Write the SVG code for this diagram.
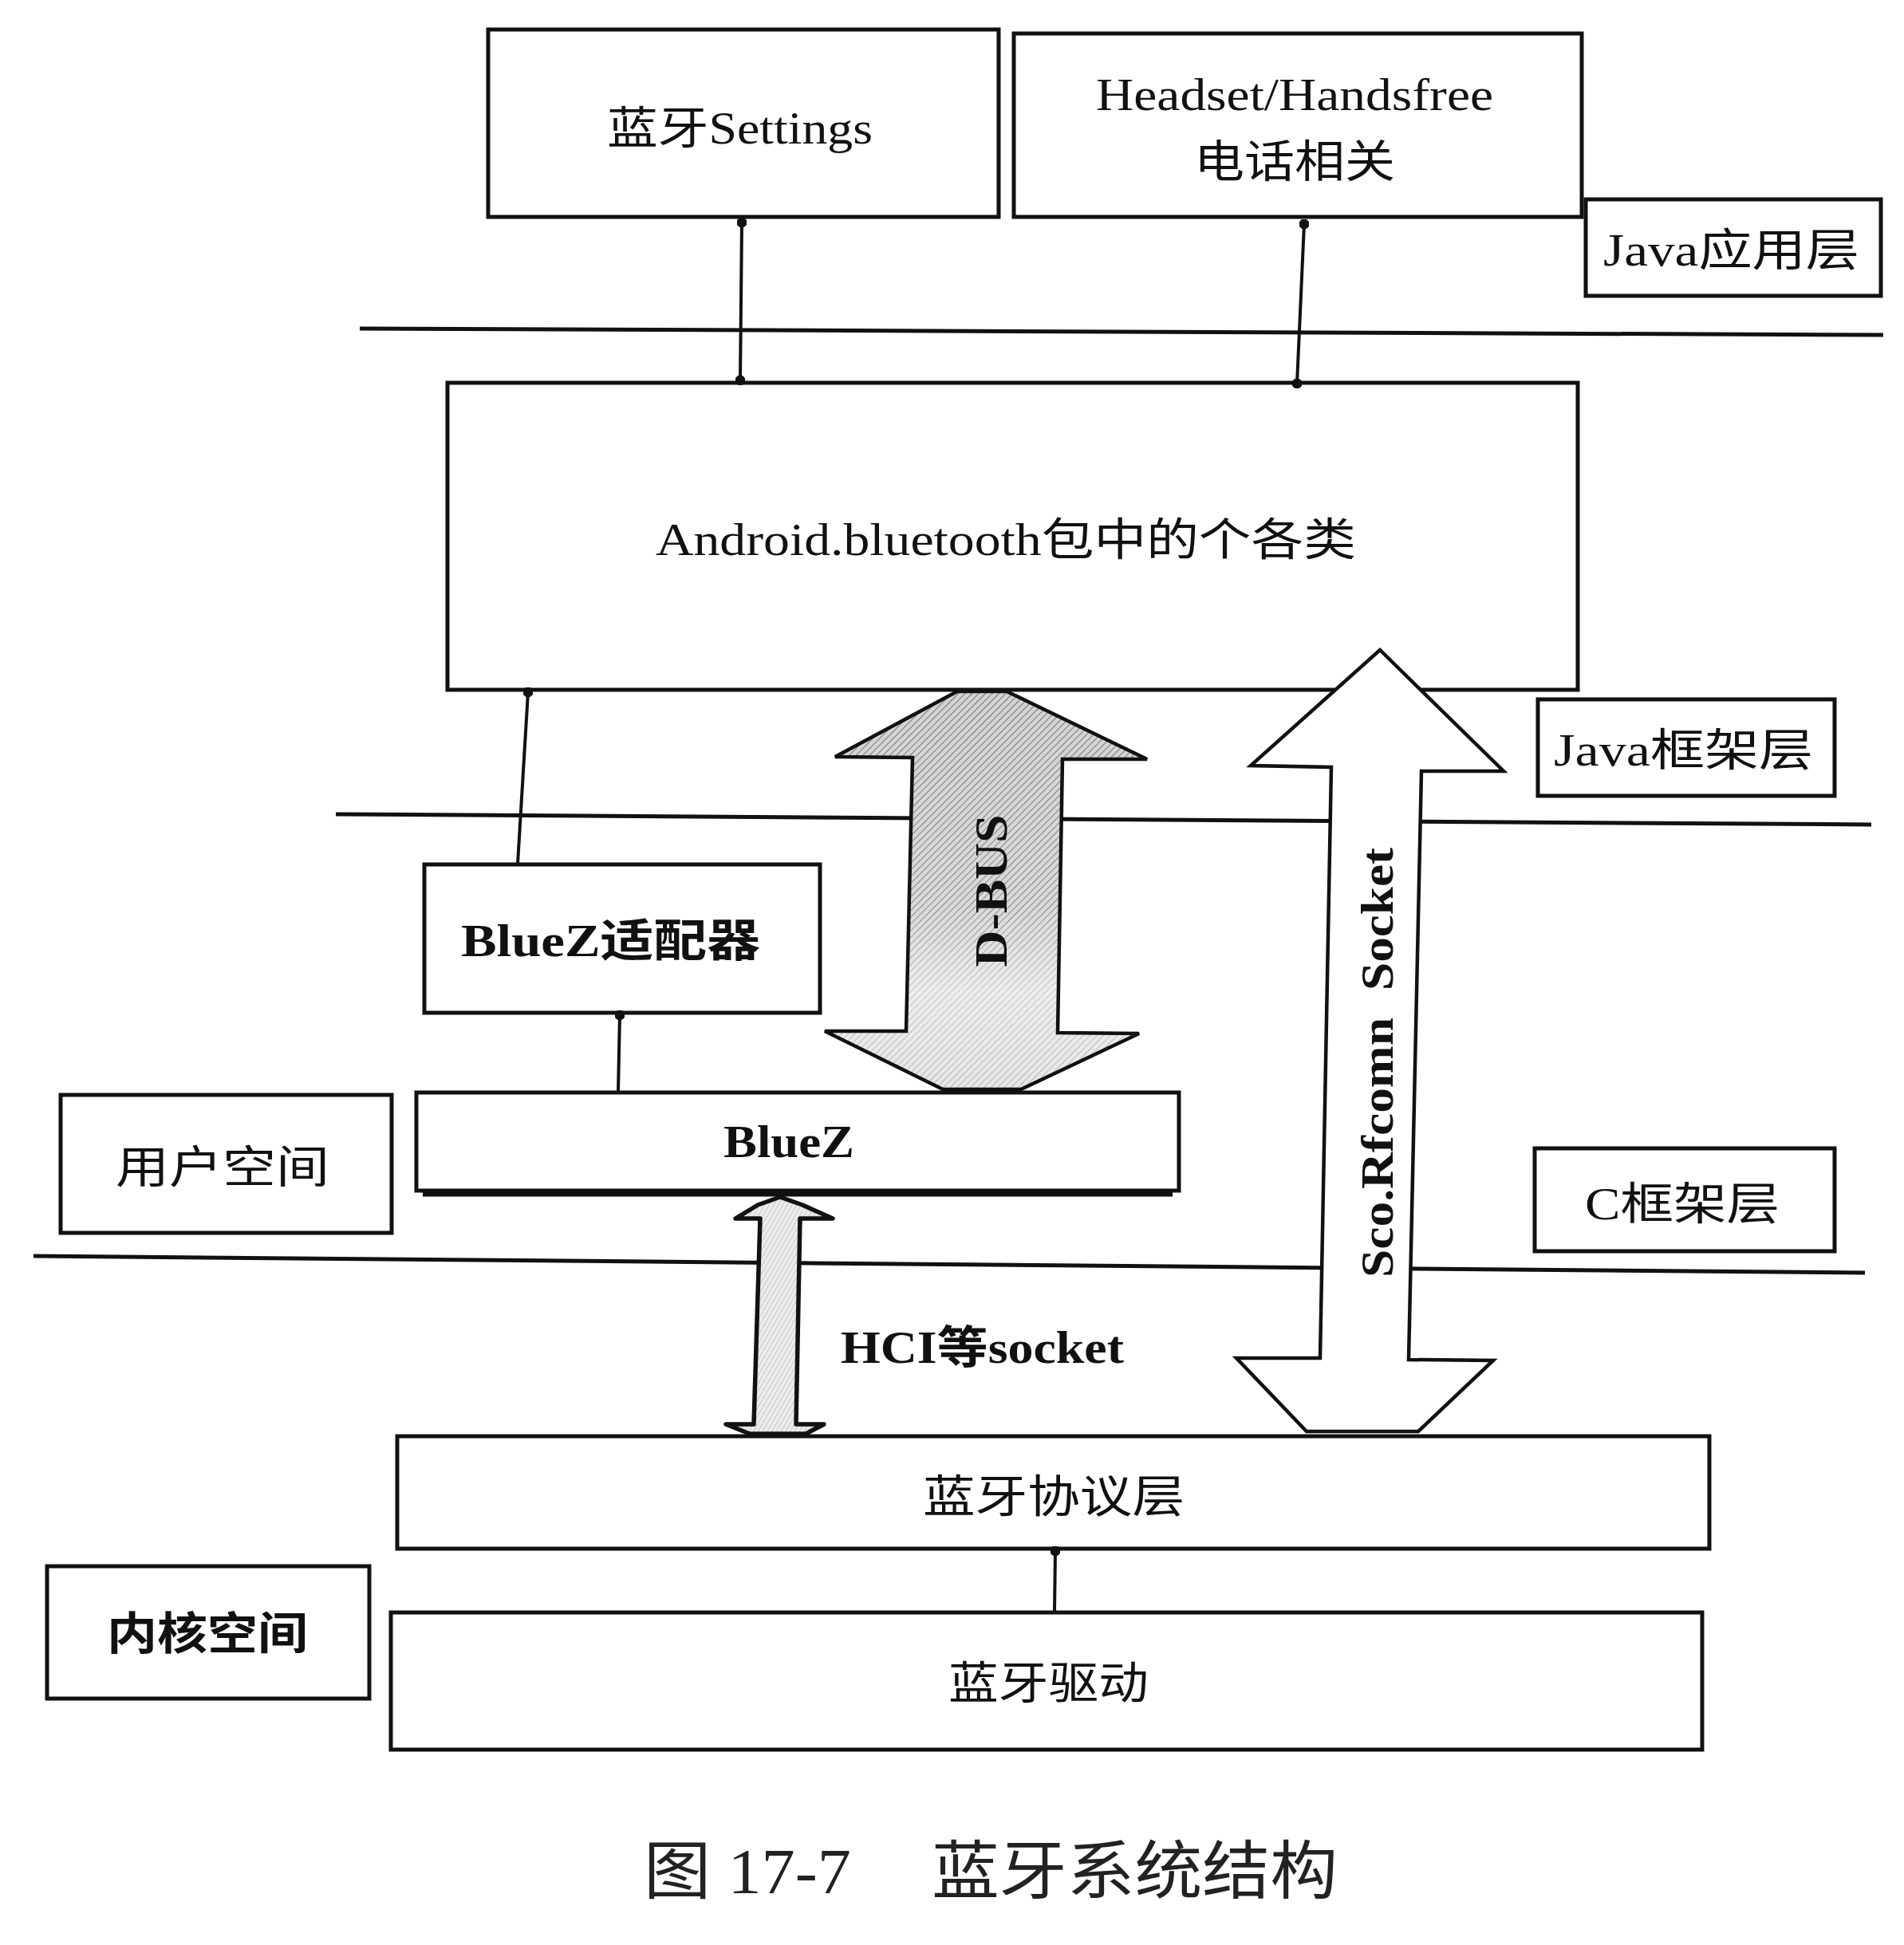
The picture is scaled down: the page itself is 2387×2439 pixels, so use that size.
<svg xmlns="http://www.w3.org/2000/svg" width="2387" height="2439" viewBox="0 0 2387 2439">
<style>
.box{fill:#fff;stroke:#111;stroke-width:5}
.lay{stroke:#111;stroke-width:5;fill:none}
.con{stroke:#111;stroke-width:4;fill:none}
.t{font-family:"Liberation Serif","Noto Sans CJK SC",serif;font-size:56px;fill:#111}
.b{font-weight:bold}
.cap{font-family:"Liberation Serif","Noto Sans CJK SC",serif;font-size:80px;fill:#222}
</style>
<defs>
<marker id="dot" viewBox="0 0 10 10" refX="5" refY="5" markerWidth="3.2" markerHeight="3.2" markerUnits="strokeWidth"><circle cx="5" cy="5" r="5" fill="#111"/></marker>
<pattern id="hatch" width="6" height="6" patternUnits="userSpaceOnUse" patternTransform="rotate(45)"><rect width="6" height="6" fill="#d4d4d4"/><line x1="0" y1="0" x2="0" y2="6" stroke="#777" stroke-width="2.2"/></pattern>
<pattern id="stip" width="5" height="5" patternUnits="userSpaceOnUse" patternTransform="rotate(30)"><rect width="5" height="5" fill="#ececec"/><line x1="0" y1="0" x2="0" y2="5" stroke="#bbb" stroke-width="1.5"/></pattern>
<linearGradient id="fade" x1="0" y1="0" x2="0" y2="1"><stop offset="0" stop-color="#fff" stop-opacity="0"/><stop offset="0.55" stop-color="#fff" stop-opacity="0.15"/><stop offset="0.75" stop-color="#fff" stop-opacity="0.6"/><stop offset="1" stop-color="#fff" stop-opacity="0.45"/></linearGradient>
</defs>

<g id="layer-lines">
<line class="lay" x1="451" y1="412" x2="2361" y2="420"/>
<line class="lay" x1="421" y1="1021" x2="2346" y2="1034"/>
<line class="lay" x1="42" y1="1575" x2="2338" y2="1596"/>
</g>

<g id="n-settings"><rect class="box" x="612" y="37" width="640" height="235"/><text class="t" x="761" y="180" textLength="333" lengthAdjust="spacingAndGlyphs">蓝牙Settings</text></g>
<g id="n-headset"><rect class="box" x="1271" y="42" width="712" height="230"/><text class="t" x="1374" y="138" textLength="498" lengthAdjust="spacingAndGlyphs">Headset/Handsfree</text><text class="t" x="1497" y="222" textLength="252" lengthAdjust="spacingAndGlyphs">电话相关</text></g>
<g id="n-java-app"><rect class="box" x="1988" y="250" width="370" height="121"/><text class="t" x="2010" y="333" textLength="321" lengthAdjust="spacingAndGlyphs">Java应用层</text></g>

<g id="n-dbus">
<polygon points="1200,867 1262,867 1438,952 1332,952 1326,1295 1428,1296 1280,1366 1182,1366 1034,1293 1136,1293 1144,950 1047,949" fill="url(#hatch)" stroke="none"/>
<polygon points="1200,867 1262,867 1438,952 1332,952 1326,1295 1428,1296 1280,1366 1182,1366 1034,1293 1136,1293 1144,950 1047,949" fill="url(#fade)" stroke="#111" stroke-width="4.5" stroke-linejoin="miter"/>
<text class="t b" transform="translate(1262,1117) rotate(-90)" text-anchor="middle" font-size="62" textLength="191" lengthAdjust="spacingAndGlyphs">D-BUS</text>
</g>

<g id="n-android"><rect class="box" x="561" y="480" width="1417" height="385"/><text class="t" x="822" y="696" textLength="878" lengthAdjust="spacingAndGlyphs">Android.bluetooth包中的个各类</text></g>
<g id="n-java-fw"><rect class="box" x="1928" y="877" width="372" height="121"/><text class="t" x="1948" y="960" textLength="325" lengthAdjust="spacingAndGlyphs">Java框架层</text></g>

<g id="n-sco">
<polygon points="1730,815 1885,967 1782,967 1766,1705 1872,1706 1778,1795 1638,1795 1550,1703 1655,1703 1669,962 1568,960" fill="#fff" stroke="#111" stroke-width="4.5"/>
<text class="t b" transform="translate(1746,1332) rotate(-90)" font-size="62"><tspan x="-270" y="0" textLength="326" lengthAdjust="spacingAndGlyphs">Sco.Rfcomn</tspan><tspan x="90" y="0" textLength="179" lengthAdjust="spacingAndGlyphs">Socket</tspan></text>
</g>

<g id="n-bluez-adapter"><rect class="box" x="532" y="1084" width="496" height="186"/><text class="t b" x="578" y="1199" font-size="58" textLength="375" lengthAdjust="spacingAndGlyphs">BlueZ适配器</text></g>
<g id="n-bluez"><rect class="box" x="522" y="1370" width="956" height="123"/><line x1="530" y1="1497" x2="1470" y2="1497" stroke="#111" stroke-width="7"/><text class="t b" x="907" y="1451" font-size="58" textLength="164" lengthAdjust="spacingAndGlyphs">BlueZ</text></g>
<g id="n-user-space"><rect class="box" x="76" y="1373" width="415" height="173"/><text class="t" x="145" y="1483" font-size="58" textLength="268" lengthAdjust="spacingAndGlyphs">用户空间</text></g>
<g id="n-c-fw"><rect class="box" x="1924" y="1440" width="376" height="129"/><text class="t" x="1987" y="1529" textLength="244" lengthAdjust="spacingAndGlyphs">C框架层</text></g>

<g id="n-hci">
<polygon points="922,1528 950,1511 978,1501 1006,1511 1044,1528 1003,1528 998,1786 1033,1786 1010,1798 940,1798 910,1786 945,1786 953,1528" fill="url(#stip)" stroke="#111" stroke-width="5.5" stroke-linejoin="round"/>
<text class="t b" x="1054" y="1709" textLength="355" lengthAdjust="spacingAndGlyphs">HCI等socket</text>
</g>

<g id="n-protocol"><rect class="box" x="498" y="1801" width="1645" height="141"/><text class="t" x="1157" y="1896" font-size="58" textLength="328" lengthAdjust="spacingAndGlyphs">蓝牙协议层</text></g>
<g id="n-driver"><rect class="box" x="490" y="2022" width="1644" height="172"/><text class="t" x="1189" y="2130" font-size="58" textLength="251" lengthAdjust="spacingAndGlyphs">蓝牙驱动</text></g>
<g id="n-kernel-space"><rect class="box" x="59" y="1964" width="404" height="166"/><text class="t b" x="134" y="2068" font-size="58" textLength="252" lengthAdjust="spacingAndGlyphs">内核空间</text></g>

<g id="connectors">
<line class="con" x1="930" y1="279" x2="928" y2="477" marker-start="url(#dot)" marker-end="url(#dot)"/>
<line class="con" x1="1635" y1="281" x2="1626" y2="481" marker-start="url(#dot)" marker-end="url(#dot)"/>
<line class="con" x1="662" y1="868" x2="649" y2="1083" marker-start="url(#dot)"/>
<line class="con" x1="777" y1="1273" x2="775" y2="1369" marker-start="url(#dot)"/>
<line class="con" x1="1323" y1="1945" x2="1322" y2="2021" marker-start="url(#dot)"/>
</g>

<g id="caption">
<text class="cap" x="807" y="2374" textLength="260" lengthAdjust="spacingAndGlyphs">图 17-7</text>
<text class="cap" x="1168" y="2374" textLength="509" lengthAdjust="spacingAndGlyphs">蓝牙系统结构</text>
</g>
</svg>
